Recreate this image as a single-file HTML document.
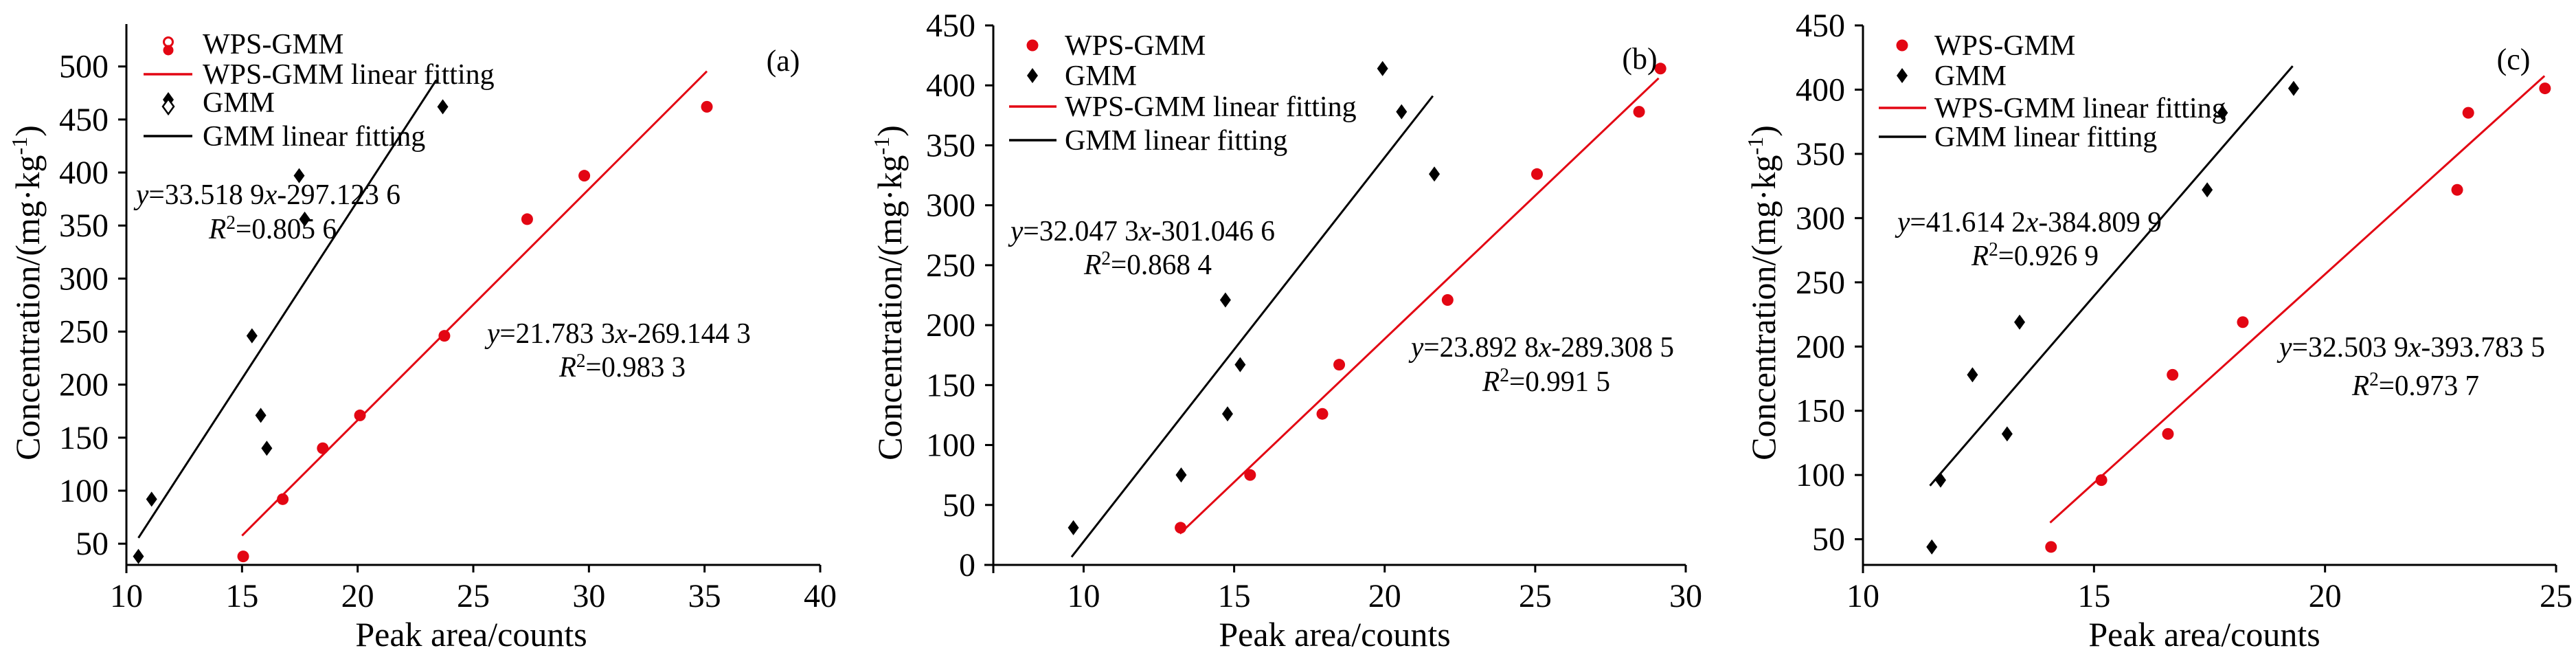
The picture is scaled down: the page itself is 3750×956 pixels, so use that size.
<!DOCTYPE html>
<html><head><meta charset="utf-8">
<style>
html,body{margin:0;padding:0;background:#fff;}
svg{display:block;font-family:"Liberation Serif","Times New Roman","DejaVu Serif",serif;}
svg text{font-family:"Liberation Serif","Times New Roman","DejaVu Serif",serif;fill:#000;}
</style></head>
<body>
<svg id="chart" width="3750" height="956" viewBox="0 0 3750 956" font-family="Liberation Serif, Times New Roman, DejaVu Serif, serif" xmlns="http://www.w3.org/2000/svg"></svg>
<script>
// ---------- data ----------
const aRedX = [15.05,16.76,18.49,20.1,23.75,27.33,29.8,35.1];
const aRedY = [38,92,140,171,246,356,397,462];
const aBlkX = [10.52,11.09,15.43,15.81,16.07,17.47,17.71,23.68];
const aBlkY = [38,92,246,171,140,397,356,462];
const aFitRed = [21.7833,-269.1443,15.0,35.1];
const aFitBlk = [33.5189,-297.1236,10.52,23.4];
const aXTicks = [10,15,20,25,30,35,40];
const aYTicks = [50,100,150,200,250,300,350,400,450,500];

const bRedX = [13.22,15.53,17.93,18.49,22.09,25.06,28.45,29.16];
const bRedY = [31,75,126,167,221,326,378,414];
const bBlkX = [9.66,13.24,14.71,14.78,15.2,19.93,20.56,21.65];
const bBlkY = [31,75,221,126,167,414,378,326];
const bFitRed = [23.8928,-289.3085,13.2,29.1];
const bFitBlk = [32.0473,-301.0466,9.6,21.6];
const bXTicks = [10,15,20,25,30];
const bYTicks = [0,50,100,150,200,250,300,350,400,450];

const cRedX = [14.07,15.16,16.6,16.7,18.22,22.86,23.1,24.76];
const cRedY = [44,96,132,178,219,322,382,401];
const cBlkX = [11.49,11.68,12.37,13.12,13.39,17.45,17.78,19.32];
const cBlkY = [44,96,178,132,219,322,382,401];
const cFitRed = [32.5039,-393.7835,14.05,24.75];
const cFitBlk = [41.6142,-384.8099,11.45,19.3];
const cXTicks = [10,15,20,25];
const cYTicks = [50,100,150,200,250,300,350,400,450];

const RED = "#e30613";
const FONT = "Liberation Serif, Times New Roman, DejaVu Serif, serif";
const NS = "http://www.w3.org/2000/svg";
const svg = document.getElementById("chart");

function mk(tag, attrs, parent){
  const e = document.createElementNS(NS, tag);
  for (const k in attrs) e.setAttribute(k, attrs[k]);
  if (tag === "text") e.setAttribute("font-family", FONT);
  (parent||svg).appendChild(e);
  return e;
}
function diamond(g, cx, cy, fill){
  return mk("polygon",{points:`${cx},${cy-11} ${cx+8},${cy} ${cx},${cy+11} ${cx-8},${cy}`,fill:fill,stroke:"#000","stroke-width":fill==="#fff"?2.5:0},g);
}

function panel(p){
  const g = mk("g",{});
  
  
  const xs = v => p.x0 + (v - p.xd[0]) / (p.xd[1]-p.xd[0]) * (p.x1 - p.x0);
  const ys = v => p.yb - (v - p.yd[0]) / (p.yd[1]-p.yd[0]) * (p.yb - p.yt);
  const ya = mk("line",{x1:p.x0,y1:p.yt,x2:p.x0,y2:p.yb+12,stroke:"#000","stroke-width":3},g);
  
  
  const xa = mk("line",{x1:p.x0-(p.yExt||0),y1:p.yb,x2:p.x1,y2:p.yb,stroke:"#000","stroke-width":3},g);
  
  
  p.xt.forEach(v=>{
    const X = xs(v);
    mk("line",{x1:X,y1:p.yb,x2:X,y2:p.yb+11,stroke:"#000","stroke-width":3},g);
    const t = mk("text",{x:X,y:883,"font-size":48,"text-anchor":"middle"},g);
    t.textContent = v;
    
    
  });
  p.yt_.forEach(v=>{
    const Y = ys(v);
    mk("line",{x1:p.x0-12,y1:Y,x2:p.x0,y2:Y,stroke:"#000","stroke-width":3},g);
    const t = mk("text",{x:p.labR,y:Y+16,"font-size":48,"text-anchor":"end"},g);
    t.textContent = v;
    
    
  });
  [[p.fr,RED,'wps-gmm-fit-line'],[p.fb,"#000",'gmm-fit-line']].forEach(([f,c,n])=>{
    const l = mk("line",{x1:xs(f[2]),y1:ys(f[0]*f[2]+f[1]),x2:xs(f[3]),y2:ys(f[0]*f[3]+f[1]),stroke:c,"stroke-width":3},g);
    
    
  });
  p.bx.forEach((v,i)=>{
    const d = diamond(g, xs(v), ys(p.by[i]), "#000");
    
    
  });
  p.rx.forEach((v,i)=>{
    const c = mk("circle",{cx:xs(v),cy:ys(p.ry[i]),r:8.5,fill:RED},g);
    
    
  });
  const L = p.leg;
  const lg = mk("g",{},g);
  
  
  L.rows.forEach(r=>{
    if (r.k==="red"){
      if (L.double){
        mk("circle",{cx:L.mx,cy:r.y-3,r:6.5,fill:"#fff",stroke:RED,"stroke-width":3},lg);
        mk("circle",{cx:L.mx,cy:r.y+9,r:7.5,fill:RED},lg);
      } else mk("circle",{cx:L.mx,cy:r.y,r:8.5,fill:RED},lg);
    } else if (r.k==="blk"){
      if (L.double){ diamond(lg,L.mx,r.y-4,"#000"); diamond(lg,L.mx,r.y+6,"#fff"); }
      else diamond(lg,L.mx,r.y,"#000");
    } else {
      mk("line",{x1:L.l0,y1:r.y,x2:L.l1,y2:r.y,stroke:r.k==="rline"?RED:"#000","stroke-width":3.5},lg);
    }
    const t = mk("text",{x:L.tx,y:r.y+14,"font-size":42},lg);
    t.textContent = r.t;
    
    
  });
  const tg = mk("text",{x:p.tag[0],y:p.tag[1]+15,"font-size":44,"text-anchor":"middle"},g);
  tg.textContent = p.tag[2];
  
  
  p.eqs.forEach(e=>{
    const t = mk("text",{x:e[0],y:e[1]+14,"font-size":42,textLength:e[3],lengthAdjust:"spacingAndGlyphs"},g);
    t.innerHTML = e[2];
    
    
  });
  const xt = mk("text",{x:p.xl,y:940,"font-size":50,"text-anchor":"middle"},g);
  xt.textContent = "Peak area/counts";
  
  
  const yt = mk("text",{x:0,y:0,"font-size":50,"text-anchor":"middle",transform:`translate(${p.ylx+17},426) rotate(-90)`},g);
  yt.innerHTML = 'Concentration/(mg·kg<tspan dy="-18" font-size="32">-1</tspan><tspan dy="18">)</tspan>';
  
  
}

const eqY = (a,b)=>`<tspan font-style="italic">y</tspan>=${a}<tspan font-style="italic">x</tspan>-${b}`;
const eqR = r=>`<tspan font-style="italic">R</tspan><tspan dy="-14" font-size="28">2</tspan><tspan dy="14">=${r}</tspan>`;

panel({name:"panel-a",x0:184,x1:1194,xd:[10,40],yb:822,yt:35,yd:[30,540],
  rx:aRedX,ry:aRedY,bx:aBlkX,by:aBlkY,fr:aFitRed,fb:aFitBlk,xt:aXTicks,yt_:aYTicks,labR:158,
  leg:{mx:245,tx:295,l0:209,l1:280,double:true,rows:[{k:"red",y:64,t:"WPS-GMM"},{k:"rline",y:108,t:"WPS-GMM linear fitting"},{k:"blk",y:149,t:"GMM"},{k:"bline",y:198,t:"GMM linear fitting"}]},
  tag:[1140,88,"(a)"],
  eqs:[[198,283,eqY("33.518 9","297.123 6"),385],[304,333,eqR("0.805 6"),186],[709,485,eqY("21.783 3","269.144 3"),384],[814,534,eqR("0.983 3"),184]],
  xl:686,ylx:40});

panel({name:"panel-b",x0:1446,x1:2454,xd:[7,30],yb:822,yt:37,yd:[0,450],yExt:13,
  rx:bRedX,ry:bRedY,bx:bBlkX,by:bBlkY,fr:bFitRed,fb:bFitBlk,xt:bXTicks,yt_:bYTicks,labR:1420,
  leg:{mx:1503,tx:1550,l0:1469,l1:1538,double:false,rows:[{k:"red",y:66,t:"WPS-GMM"},{k:"blk",y:110,t:"GMM"},{k:"rline",y:155,t:"WPS-GMM linear fitting"},{k:"bline",y:204,t:"GMM linear fitting"}]},
  tag:[2387,85,"(b)"],
  eqs:[[1471,336,eqY("32.047 3","301.046 6"),385],[1578,385,eqR("0.868 4"),186],[2054,505,eqY("23.892 8","289.308 5"),383],[2158,555,eqR("0.991 5"),186]],
  xl:1943,ylx:1295});

panel({name:"panel-c",x0:2712,x1:3721,xd:[10,25],yb:822,yt:37,yd:[30,450],
  rx:cRedX,ry:cRedY,bx:cBlkX,by:cBlkY,fr:cFitRed,fb:cFitBlk,xt:cXTicks,yt_:cYTicks,labR:2686,
  leg:{mx:2769,tx:2816,l0:2735,l1:2804,double:false,rows:[{k:"red",y:66,t:"WPS-GMM"},{k:"blk",y:110,t:"GMM"},{k:"rline",y:157,t:"WPS-GMM linear fitting"},{k:"bline",y:199,t:"GMM linear fitting"}]},
  tag:[3659,86,"(c)"],
  eqs:[[2762,323,eqY("41.614 2","384.809 9"),385],[2870,372,eqR("0.926 9"),185],[3318,505,eqY("32.503 9","393.783 5"),387],[3424,561,eqR("0.973 7"),185]],
  xl:3209,ylx:2567});
</script>
</body></html>
